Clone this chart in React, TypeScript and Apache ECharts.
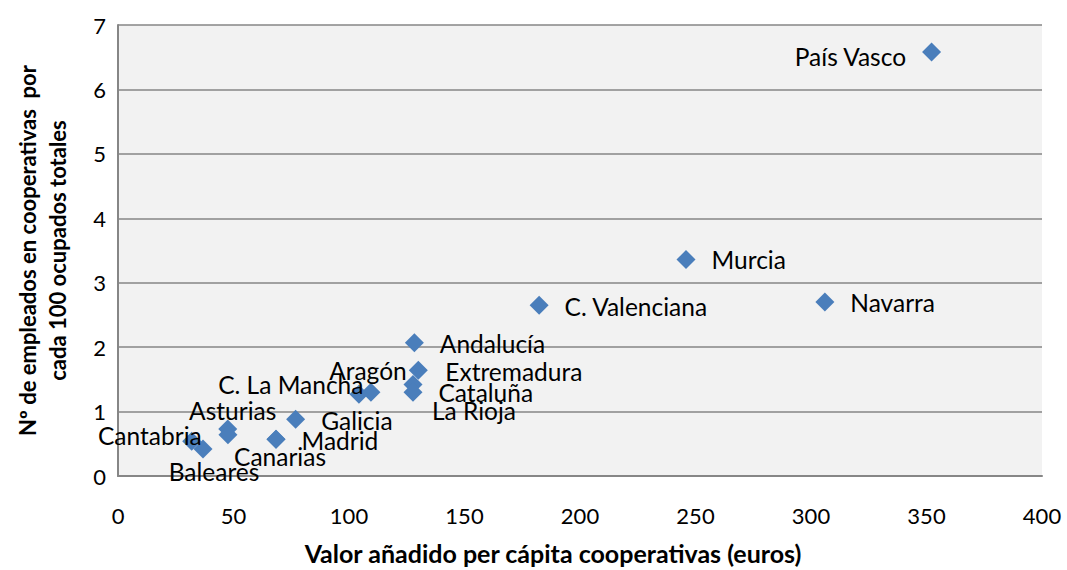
import React, { useEffect, useRef } from "react";
import * as echarts from "echarts";

const regions = [
  "País Vasco", "Murcia", "Navarra", "C. Valenciana", "Andalucía", "Extremadura",
  "Cataluña", "La Rioja", "Aragón", "C. La Mancha", "Galicia", "Asturias",
  "C. y León", "Madrid", "Canarias", "Cantabria", "Baleares",
];
const valorAnadido = [352.2, 245.9, 306, 182.3, 128.3, 130, 127.7, 127.7, 109.5, 104.3, 76.9, 47.5, 47.6, 68.4, 68.4, 31.9, 36.8];
const empleados = [6.58, 3.36, 2.7, 2.65, 2.07, 1.64, 1.42, 1.3, 1.3, 1.27, 0.88, 0.73, 0.64, 0.57, 0.57, 0.54, 0.42];
const hiddenLabels = ["C. y León"];

const xTicks = [0, 50, 100, 150, 200, 250, 300, 350, 400];
const yTicks = [0, 1, 2, 3, 4, 5, 6, 7];

// label placement: [position, dx, dy]
const labelPlacement: Record<string, [string, number, number]> = {
  "País Vasco": ["left", 0, 4],
  "Murcia": ["right", 0, 0],
  "Navarra": ["right", 0, 0],
  "C. Valenciana": ["right", 0, 1],
  "Andalucía": ["right", 0, 1],
  "Extremadura": ["right", 1.5, 1],
  "Cataluña": ["right", 0, 8],
  "La Rioja": ["right", -6.5, 18],
  "Aragón": ["top", -3, 0],
  "C. La Mancha": ["left", 30, -10],
  "Galicia": ["right", 0, 1],
  "Asturias": ["top", 5, 4],
  "Madrid": ["right", 0, 1],
  "Canarias": ["bottom", 4, -5],
  "Cantabria": ["left", 35.5, -6],
  "Baleares": ["bottom", 11, 1],
};

const FONT = "Lato";

export default function App() {
  const ref = useRef<HTMLDivElement>(null);
  useEffect(() => {
    if (!ref.current) return;
    const chart = echarts.init(ref.current, undefined, { renderer: "svg" });
    const data = regions.map((name, i) => {
      const pl = labelPlacement[name];
      const hidden = hiddenLabels.includes(name);
      return {
        name,
        value: [valorAnadido[i], empleados[i]],
        label: hidden
          ? { show: false }
          : {
              show: true,
              position: pl[0],
              distance: pl[0] === "left" || pl[0] === "right" ? 16 : 0,
            },
      };
    });
    chart.setOption({
      animation: false,
      backgroundColor: "#ffffff",
      textStyle: { fontFamily: FONT },
      grid: {
        left: 118,
        right: 25,
        top: 25,
        bottom: 92,
        show: true,
        backgroundColor: "#f2f2f2",
        borderWidth: 0,
      },
      xAxis: {
        type: "value",
        min: xTicks[0],
        max: xTicks[xTicks.length - 1],
        interval: 50,
        name: "Valor añadido per cápita cooperativas (euros)",
        nameLocation: "middle",
        nameGap: 64,
        nameTextStyle: {
          fontFamily: FONT,
          fontWeight: "bold",
          fontSize: 25,
          color: "#000",
          padding: [0, 54, 0, 0],
        },
        axisLine: { show: true, lineStyle: { color: "#868686", width: 2 } },
        axisTick: { show: false },
        splitLine: { show: false },
        axisLabel: { fontFamily: FONT, fontSize: 22, color: "#000", margin: 28 },
      },
      yAxis: {
        type: "value",
        min: yTicks[0],
        max: yTicks[yTicks.length - 1],
        interval: 1,
        name: "Nº de empleados en cooperativas  por\ncada 100 ocupados totales",
        nameLocation: "middle",
        nameRotate: 90,
        nameGap: 46,
        nameTextStyle: { fontFamily: FONT, fontWeight: "bold", fontSize: 22, color: "#000", lineHeight: 30 },
        axisLine: { show: true, lineStyle: { color: "#868686", width: 2 } },
        axisTick: { show: false },
        splitLine: { show: true, lineStyle: { color: "#868686", width: 1.5 } },
        axisLabel: { fontFamily: FONT, fontSize: 22, color: "#000", margin: 12 },
      },
      series: [
        {
          type: "scatter",
          symbol: "diamond",
          symbolSize: 19,
          itemStyle: { color: "#4a7ebb", opacity: 1 },
          label: {
            fontFamily: FONT,
            fontSize: 24.5,
            color: "#000",
            formatter: "{b}",
          },
          labelLayout: (params: any) => {
            const name = regions[params.dataIndex];
            const pl = labelPlacement[name];
            if (!pl) return {};
            return { dx: pl[1], dy: pl[2], hideOverlap: false };
          },
          data,
        },
      ],
    });
    return () => chart.dispose();
  }, []);
  return (
    <div
      ref={ref}
      style={{ position: "fixed", left: 0, top: 0, width: 1067, height: 570 }}
    />
  );
}
